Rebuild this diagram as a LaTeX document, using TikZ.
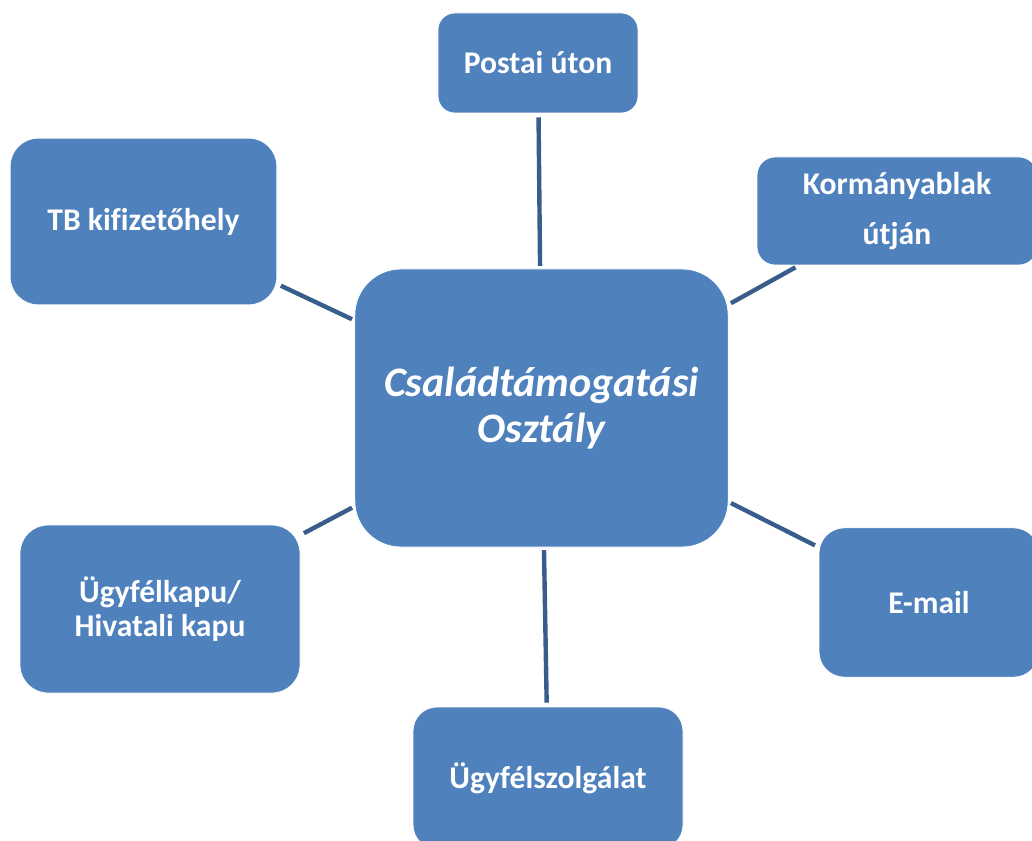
\documentclass[tikz,border=0pt]{standalone}
\usepackage{fontspec}
\setmainfont{Carlito}[Ligatures=NoCommon]
\usetikzlibrary{positioning}
\definecolor{boxblue}{RGB}{79,129,189}
\definecolor{linkblue}{RGB}{56,93,138}

\begin{document}
\begin{tikzpicture}[x=0.75pt, y=-0.75pt,
  box/.style={rectangle, fill=boxblue, draw=white, line width=0.6pt, text=white,
    align=center, inner sep=2pt, font=\bfseries\fontsize{23.7}{28}\selectfont},
  link/.style={draw=linkblue, line width=3.3pt, shorten <=2pt, shorten >=3pt}]

\clip (0,0) rectangle (1032,841);

\node[box, minimum width=280pt, minimum height=208.5pt, rounded corners=34.5pt,
  font=\bfseries\itshape\fontsize{31.5}{34.5}\selectfont] (osztaly) at (541.5,408)
  {Családtámogatási\\Osztály};

\node[box, minimum width=150pt, minimum height=75pt, rounded corners=12.5pt] (posta) at (538,63) {Postai úton};
\node[box, minimum width=210pt, minimum height=81pt, rounded corners=13.5pt,
  font=\bfseries\fontsize{23.7}{37.5}\selectfont] (kormany) at (897,211) {Kormányablak\\útján};
\node[box, minimum width=200pt, minimum height=125pt, rounded corners=21pt] (tb) at (143.5,221.5) {TB kifizetőhely};
\node[box, minimum width=210pt, minimum height=126pt, rounded corners=21pt,
  font=\bfseries\fontsize{23.7}{25}\selectfont] (kapu) at (160,609) {Ügyfélkapu/\\Hivatali kapu};
\node[box, minimum width=165pt, minimum height=112pt, rounded corners=19pt] (email) at (929,602.5) {E-mail};
\node[box, minimum width=202.5pt, minimum height=106.5pt, rounded corners=18pt] (szolg) at (548,778) {Ügyfélszolgálat};

\draw[link] (osztaly) -- (posta);
\draw[link] (osztaly) -- (kormany);
\draw[link] (osztaly) -- (tb);
\draw[link] (osztaly) -- (kapu);
\draw[link] (osztaly) -- (email);
\draw[link] (osztaly) -- (szolg);

\end{tikzpicture}
\end{document}
